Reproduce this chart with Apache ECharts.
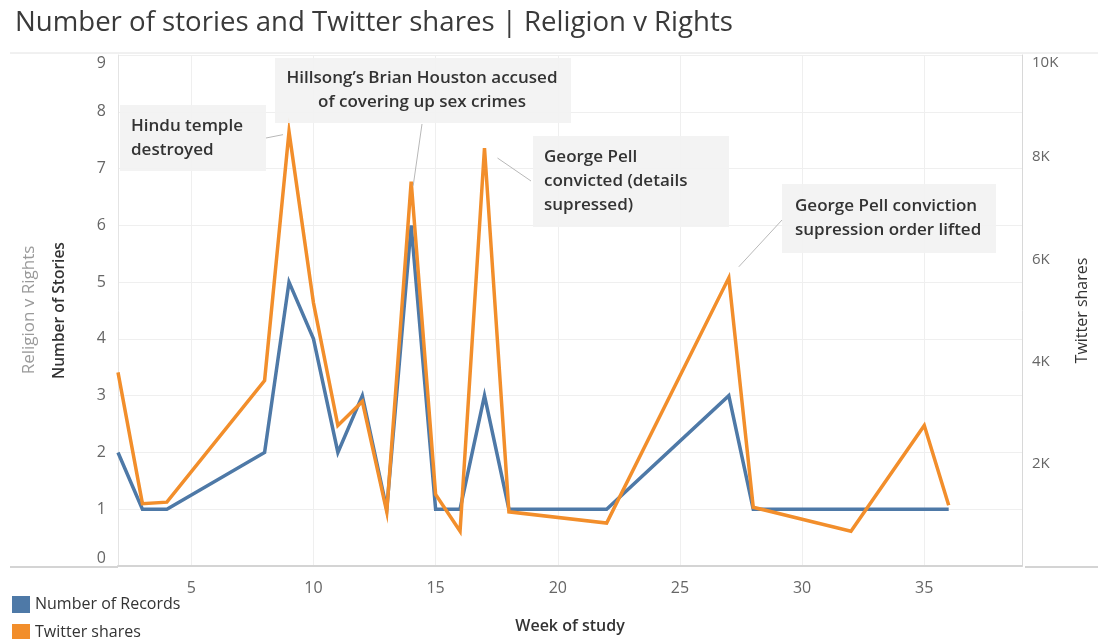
<!DOCTYPE html>
<html>
<head>
<meta charset="utf-8">
<title>Number of stories and Twitter shares | Religion v Rights</title>
<script src="https://cdn.jsdelivr.net/npm/echarts@6/dist/echarts.min.js"></script>
<style>
  html, body { margin: 0; padding: 0; background: #fff; }
  #chart { width: 1098px; height: 639px; }
</style>
</head>
<body>
<div id="chart"></div>
<script>
// Weekly counts of Religion v Rights stories and the Twitter shares they drew
const weeks   = [2, 3, 4, 8, 9, 10, 11, 12, 13, 14, 15, 16, 17, 18, 22, 27, 28, 32, 35, 36];
const stories = [2, 1, 1, 2, 5, 4, 2, 3, 1, 6, 1, 1, 3, 1, 1, 3, 1, 1, 1, 1];
const shares  = [3790, 1220, 1250, 3630, 8500, 5150, 2750, 3220, 1060, 7520, 1400, 680, 8180, 1060, 840, 5640, 1150, 680, 2750, 1190];

const weekTicks = [5, 10, 15, 20, 25, 30, 35];

// Callouts: the week they point at, and their text lines
const notes = [
  { week: 9,  lines: ['Hindu temple', 'destroyed'] },
  { week: 14, lines: ['Hillsong\u2019s Brian Houston accused', 'of covering up sex crimes'] },
  { week: 17, lines: ['George Pell', 'convicted (details', 'supressed)'] },
  { week: 27, lines: ['George Pell conviction', 'supression order lifted'] }
];

const FONT = '"Open Sans", "Noto Sans", sans-serif';
const BLUE = '#4e79a7';
const ORANGE = '#f28e2b';

const chart = echarts.init(document.getElementById('chart'), null, { renderer: 'canvas' });

const pairs = (xs, ys) => xs.map((x, i) => [x, ys[i]]);

const legendText = { fontFamily: FONT, fontSize: 16, color: '#333' };

chart.setOption({
  animation: false,
  textStyle: { fontFamily: FONT },
  title: {
    text: 'Number of stories and Twitter shares | Religion v Rights',
    left: 10, top: 4,
    textStyle: { fontFamily: FONT, fontSize: 27.6, fontWeight: 'normal', color: '#3a3a3a' }
  },
  legend: [
    {
      left: 12, top: 596, padding: 0,
      icon: 'rect', itemWidth: 18, itemHeight: 17,
      textStyle: legendText,
      data: ['Number of Records']
    },
    {
      left: 12, top: 624, padding: 0,
      icon: 'rect', itemWidth: 18, itemHeight: 17,
      textStyle: legendText,
      data: ['Twitter shares']
    }
  ],
  grid: { left: 118, right: 73, top: 55, bottom: 72 },
  xAxis: {
    type: 'value',
    min: 2, max: 39,
    name: 'Week of study',
    nameLocation: 'middle',
    nameGap: 52,
    nameTextStyle: { fontFamily: FONT, fontSize: 16, fontWeight: 600, color: '#333' },
    axisLine: { show: true, lineStyle: { color: '#d4d4d4', width: 2 } },
    axisTick: { show: false, customValues: weekTicks },
    axisLabel: { customValues: weekTicks, fontSize: 16, color: '#666', margin: 14 },
    splitLine: { show: true, lineStyle: { color: '#efefef', width: 1 } }
  },
  yAxis: [
    {
      type: 'value',
      min: 0, max: 9, interval: 1,
      name: 'Number of Stories',
      nameLocation: 'middle',
      nameGap: 50,
      nameTextStyle: { fontFamily: FONT, fontSize: 15.5, fontWeight: 600, color: '#333' },
      axisLine: { show: true, lineStyle: { color: '#e4e4e4', width: 1 } },
      axisTick: { show: false },
      axisLabel: {
        fontSize: 16, color: '#666', margin: 12,
        verticalAlignMinLabel: 'bottom', verticalAlignMaxLabel: 'top'
      },
      splitLine: { show: true, lineStyle: { color: '#efefef', width: 1 } }
    },
    {
      type: 'value',
      min: 0, max: 10000, interval: 2000,
      position: 'right',
      name: 'Twitter shares',
      nameLocation: 'middle',
      nameGap: 52,
      nameRotate: 90,
      nameTextStyle: { fontFamily: FONT, fontSize: 16, color: '#333' },
      axisLine: { show: true, lineStyle: { color: '#d8d8d8', width: 1 } },
      axisTick: { show: false },
      axisLabel: {
        fontSize: 15, color: '#666', margin: 10, showMinLabel: false,
        verticalAlignMaxLabel: 'top',
        formatter: v => (v / 1000) + 'K'
      },
      splitLine: { show: false }
    }
  ],
  series: [
    {
      name: 'Number of Records',
      type: 'line',
      yAxisIndex: 0,
      data: pairs(weeks, stories),
      symbol: 'none',
      color: BLUE,
      lineStyle: { width: 3.5, color: BLUE, join: 'miter' },
      z: 2
    },
    {
      name: 'Twitter shares',
      type: 'line',
      yAxisIndex: 1,
      data: pairs(weeks, shares),
      symbol: 'none',
      color: ORANGE,
      lineStyle: { width: 3.5, color: ORANGE, join: 'miter' },
      z: 3
    }
  ]
});

// Callout boxes and their leader lines, tied to the orange peaks
const boxes = [
  { x: 120, y: 105, w: 146, h: 66, tx: 131, align: 'left',   from: [266, 138], off: [-6, 3] },
  { x: 275, y: 58,  w: 296, h: 65, tx: 422, align: 'center', from: [422, 124], off: [2, 4] },
  { x: 533, y: 136, w: 196, h: 91, tx: 544, align: 'left',   from: [531, 181], off: [13, 10] },
  { x: 782, y: 184, w: 214, h: 69, tx: 795, align: 'left',   from: [782, 220], off: [10, -11] }
];

const graphic = [
  // header rule and baseline rule spanning the view
  { type: 'line', shape: { x1: 10, y1: 53, x2: 1098, y2: 53 }, style: { stroke: '#e2e2e2', lineWidth: 1 }, z: 0 },
  { type: 'line', shape: { x1: 10, y1: 567, x2: 118, y2: 567 }, style: { stroke: '#d4d4d4', lineWidth: 2 }, z: 0 },
  { type: 'line', shape: { x1: 1025, y1: 567, x2: 1098, y2: 567 }, style: { stroke: '#d4d4d4', lineWidth: 2 }, z: 0 },
  // outer axis title for the sheet
  {
    type: 'text', x: 29, y: 310, rotation: Math.PI / 2,
    style: { text: 'Religion v Rights', fontFamily: FONT, fontSize: 17, fill: '#9a9a9a', align: 'center', verticalAlign: 'middle' }
  }
];

notes.forEach((n, i) => {
  const b = boxes[i];
  const idx = weeks.indexOf(n.week);
  const p = chart.convertToPixel({ xAxisIndex: 0, yAxisIndex: 1 }, [n.week, shares[idx]]);
  graphic.push({
    type: 'rect', shape: { x: b.x, y: b.y, width: b.w, height: b.h },
    style: { fill: 'rgba(242,242,242,0.92)' }, z: 10
  });
  graphic.push({
    type: 'text', x: b.tx, y: b.y + b.h / 2,
    style: {
      text: n.lines.join('\n'), fontFamily: FONT, fontSize: 17, fontWeight: 600,
      lineHeight: 24, fill: '#333', align: b.align, verticalAlign: 'middle'
    }, z: 11
  });
  graphic.push({
    type: 'line', shape: { x1: b.from[0], y1: b.from[1], x2: p[0] + b.off[0], y2: p[1] + b.off[1] },
    style: { stroke: '#b8b8b8', lineWidth: 1 }, z: 11
  });
});

chart.setOption({ graphic: graphic });
</script>
</body>
</html>
